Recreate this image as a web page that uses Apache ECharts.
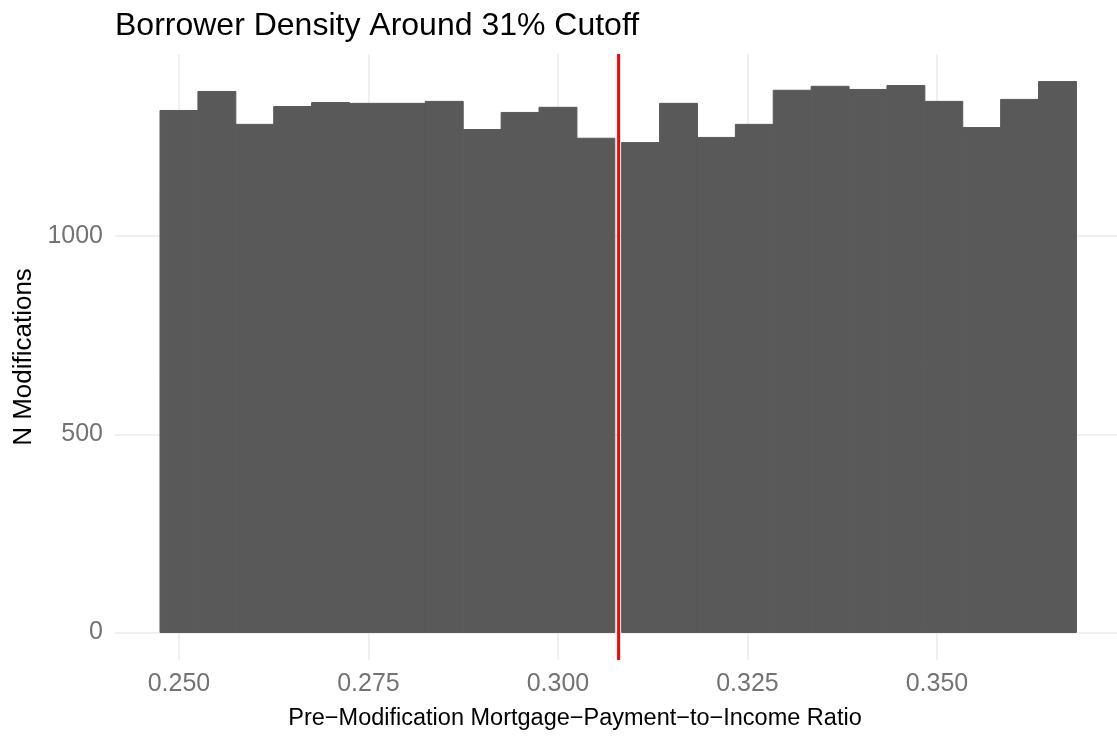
<!DOCTYPE html>
<html>
<head>
<meta charset="utf-8">
<script src="https://cdn.jsdelivr.net/npm/echarts@6/dist/echarts.min.js"></script>
<style>
  html, body { margin: 0; padding: 0; background: #fff; }
  #chart { width: 1117px; height: 738px; }
</style>
</head>
<body>
<div id="chart"></div>
<script>
// histogram bins (left edge of each bin), width 0.005
const binWidth = 0.005;
const leftBinStart = [0.2475, 0.2525, 0.2575, 0.2625, 0.2675, 0.2725, 0.2775, 0.2825, 0.2875, 0.2925, 0.2975, 0.3025];
const leftCounts = [1317, 1365, 1282, 1327, 1337, 1335, 1335, 1340, 1269, 1312, 1325, 1247];
const rightBinStart = [0.3084, 0.3134, 0.3184, 0.3234, 0.3284, 0.3334, 0.3384, 0.3434, 0.3484, 0.3534, 0.3584, 0.3634];
const rightCounts = [1236, 1335, 1249, 1282, 1368, 1378, 1370, 1380, 1340, 1274, 1345, 1390];

// cutoff line and axis ticks
const cutoff = 0.308;
const xTicks = [0.25, 0.275, 0.3, 0.325, 0.35];
const yTicks = [0, 500, 1000];
const yRange = [-69.5, 1459.5];

const font = '"Liberation Sans", Arial, Helvetica, sans-serif';
const gridColor = '#ebebeb';
const barColor = '#595959';
const tickColor = '#737373';

// build [start, end, count] rows for the custom series
function buildBins(starts, counts) {
    return starts.map((s, i) => [s, s + binWidth, counts[i]]);
}
const binData = buildBins(leftBinStart, leftCounts).concat(buildBins(rightBinStart, rightCounts));

function renderBar(params, api) {
    const p0 = api.coord([api.value(0), api.value(2)]);
    const p1 = api.coord([api.value(1), 0]);
    return {
        type: 'rect',
        shape: { x: p0[0], y: p0[1], width: p1[0] - p0[0], height: p1[1] - p0[1] },
        style: { fill: barColor, stroke: barColor, lineWidth: 1 }
    };
}

const chart = echarts.init(document.getElementById('chart'));

chart.setOption({
    animation: false,
    backgroundColor: '#fff',
    title: {
        text: 'Borrower Density Around 31% Cutoff',
        left: 115,
        top: 10,
        padding: 0,
        textStyle: { fontFamily: font, fontSize: 32, fontWeight: 'normal', color: '#000' }
    },
    grid: { left: 115, right: 0, top: 54, bottom: 78 },
    xAxis: {
        type: 'value',
        min: 0.24156,
        max: 0.37375,
        name: 'Pre\u2212Modification Mortgage\u2212Payment\u2212to\u2212Income Ratio',
        nameLocation: 'middle',
        nameGap: 47,
        nameTextStyle: { fontFamily: font, fontSize: 23.5, color: '#000', padding: [0, 82, 0, 0] },
        axisLine: { show: false },
        axisTick: { show: false, customValues: xTicks },
        axisLabel: {
            customValues: xTicks,
            margin: 12,
            fontFamily: font,
            fontSize: 25,
            color: tickColor,
            formatter: v => v.toFixed(3)
        },
        splitLine: { show: true, lineStyle: { color: gridColor, width: 1.5 } }
    },
    yAxis: {
        type: 'value',
        min: yRange[0],
        max: yRange[1],
        name: 'N Modifications',
        nameLocation: 'middle',
        nameGap: 77,
        nameTextStyle: { fontFamily: font, fontSize: 26, color: '#000' },
        axisLine: { show: false },
        axisTick: { show: false, customValues: yTicks },
        axisLabel: {
            customValues: yTicks,
            margin: 12,
            fontFamily: font,
            fontSize: 25,
            color: tickColor,
            formatter: v => String(v)
        },
        splitLine: { show: true, lineStyle: { color: gridColor, width: 1.5 } }
    },
    series: [{
        type: 'custom',
        renderItem: renderBar,
        encode: { x: [0, 1], y: 2 },
        data: binData,
        silent: true
    }, {
        // vertical cutoff line across the whole panel
        type: 'line',
        data: [[cutoff, yRange[0]], [cutoff, yRange[1]]],
        showSymbol: false,
        silent: true,
        lineStyle: { color: '#ff0000', width: 3 },
        z: 5
    }]
});
</script>
</body>
</html>
